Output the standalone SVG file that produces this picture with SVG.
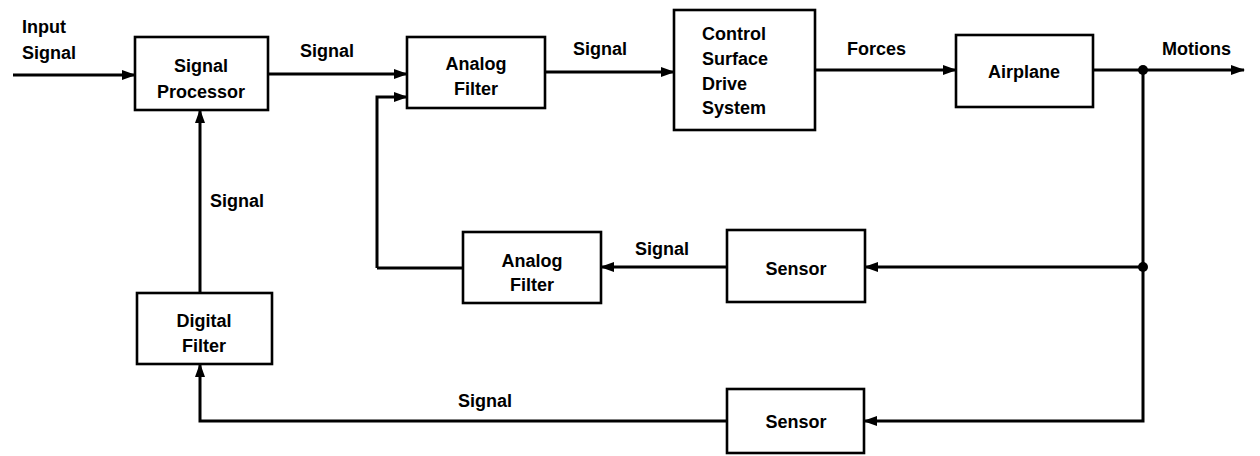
<svg xmlns="http://www.w3.org/2000/svg" width="1260" height="456" viewBox="0 0 1260 456">
<style>
.box{fill:#fff;stroke:#000;stroke-width:2.6}
.ln{fill:none;stroke:#000;stroke-width:3}
text{font-family:"Liberation Sans",Arial,sans-serif;font-weight:bold;font-size:18px;fill:#000}
.c{text-anchor:middle}
</style>
<defs>
<marker id="ah" markerWidth="14" markerHeight="10" refX="13" refY="5" orient="auto" markerUnits="userSpaceOnUse">
<path d="M0,0 L14,5 L0,10 Z" fill="#000"/>
</marker>
</defs>
<rect width="1260" height="456" fill="#fff"/>
<g id="connectors">
<path class="ln" d="M13,75 L135,75" marker-end="url(#ah)"/>
<path class="ln" d="M268,74 L407,74" marker-end="url(#ah)"/>
<path class="ln" d="M377,268 L377,97 L407,97" marker-end="url(#ah)"/>
<path class="ln" d="M545,72 L674,72" marker-end="url(#ah)"/>
<path class="ln" d="M815,70 L956,70" marker-end="url(#ah)"/>
<path class="ln" d="M1093,70 L1244,70" marker-end="url(#ah)"/>
<path class="ln" d="M1143,70 L1143,421 L864,421" marker-end="url(#ah)"/>
<path class="ln" d="M1143,267 L865,267" marker-end="url(#ah)"/>
<path class="ln" d="M727,267 L601,267" marker-end="url(#ah)"/>
<path class="ln" d="M463,268 L377,268"/>
<path class="ln" d="M727,421 L200,421 L200,364" marker-end="url(#ah)"/>
<path class="ln" d="M200,293 L200,110" marker-end="url(#ah)"/>
<circle cx="1143" cy="70" r="5" fill="#000"/>
<circle cx="1143" cy="267" r="5" fill="#000"/>
<text x="22" y="33">Input</text>
<text x="22" y="59">Signal</text>
<text x="300" y="57">Signal</text>
<text x="573" y="55">Signal</text>
<text x="847" y="55">Forces</text>
<text x="1162" y="55">Motions</text>
<text x="210" y="207">Signal</text>
<text x="635" y="255">Signal</text>
<text x="458" y="407">Signal</text>
</g>
<g id="signal-processor">
<rect class="box" x="135" y="37" width="133" height="73"/>
<text class="c" x="201" y="72">Signal</text>
<text class="c" x="201" y="98">Processor</text>
</g>
<g id="analog-filter-1">
<rect class="box" x="407" y="37" width="138" height="71"/>
<text class="c" x="476" y="70">Analog</text>
<text class="c" x="476" y="95">Filter</text>
</g>
<g id="control-surface">
<rect class="box" x="674" y="10" width="141" height="120"/>
<text x="702" y="40">Control</text>
<text x="702" y="65">Surface</text>
<text x="702" y="90">Drive</text>
<text x="702" y="114">System</text>
</g>
<g id="airplane">
<rect class="box" x="956" y="35" width="137" height="72"/>
<text class="c" x="1024" y="78">Airplane</text>
</g>
<g id="analog-filter-2">
<rect class="box" x="463" y="232" width="138" height="71"/>
<text class="c" x="532" y="267">Analog</text>
<text class="c" x="532" y="291">Filter</text>
</g>
<g id="sensor-1">
<rect class="box" x="727" y="230" width="138" height="72"/>
<text class="c" x="796" y="275">Sensor</text>
</g>
<g id="digital-filter">
<rect class="box" x="137" y="293" width="135" height="71"/>
<text class="c" x="204" y="327">Digital</text>
<text class="c" x="204" y="352">Filter</text>
</g>
<g id="sensor-2">
<rect class="box" x="727" y="389" width="137" height="64"/>
<text class="c" x="796" y="428">Sensor</text>
</g>
</svg>
